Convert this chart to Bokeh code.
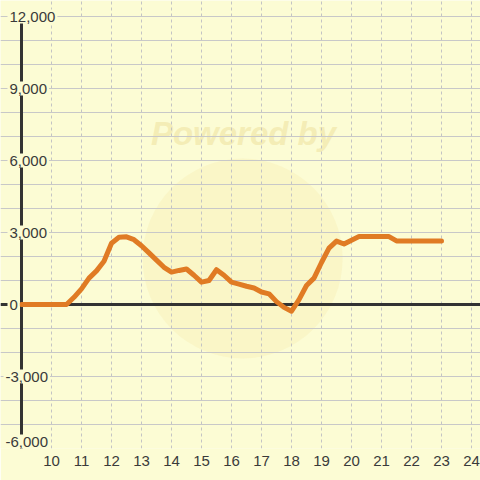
from bokeh.plotting import figure
from bokeh.models import FixedTicker, ColumnDataSource, Range1d
from bokeh.core.properties import value
from bokeh.embed import file_html
from bokeh.resources import INLINE

# ---- data ----
hours = [9, 10.5, 10.75, 11, 11.25, 11.5, 11.75, 12, 12.25, 12.5, 12.75, 13,
         13.25, 13.5, 13.75, 14, 14.25, 14.5, 14.75, 15, 15.25, 15.5, 15.75,
         16, 16.25, 16.5, 16.75, 17, 17.25, 17.5, 17.75, 18, 18.25, 18.5,
         18.75, 19, 19.25, 19.5, 19.75, 20, 20.25, 20.5, 20.75, 21, 21.25,
         21.5, 21.75, 22, 22.25, 22.5, 22.75, 23]
values = [0, 0, 300, 650, 1100, 1400, 1800, 2550, 2800, 2820, 2700, 2450,
          2150, 1850, 1550, 1350, 1420, 1480, 1220, 930, 1000, 1450, 1220,
          930, 850, 760, 690, 520, 444, 120, -120, -280, 200, 790,
          1100, 1750, 2350, 2640, 2520, 2680, 2830, 2830, 2830, 2830, 2830,
          2650, 2650, 2650, 2650, 2650, 2650, 2650]

x_ticks = list(range(10, 25))
y_grid_ticks = list(range(-6000, 12001, 1000))
y_label_vals = [12000, 9000, 6000, 3000, 0]
y_label_text = ["12,000", "9,000", "6,000", "3,000", "0"]
y_neg_vals = [-3000]
y_neg_text = ["-3,000"]
y_bottom_val = [-6000]
y_bottom_text = ["-6,000"]

BG = "#FCFCD4"
TXT = "#3a3a3a"
FONT = "Liberation Sans"

x_start, x_end = 8.3, 24.3
y_start, y_end = -6000, 12667

p = figure(width=480, height=480, output_backend="svg", toolbar_location=None,
           x_range=Range1d(x_start, x_end), y_range=Range1d(y_start, y_end),
           min_border_left=0, min_border_right=0, min_border_top=0,
           min_border_bottom=32)
p.background_fill_color = BG
p.border_fill_color = BG
p.outline_line_color = None
p.yaxis.visible = False

# watermark
p.scatter(x=[16.37], y=[1917], size=200, fill_color="#F5EBB0", fill_alpha=0.35,
          line_color=None, level="image")
p.text(x=[16.4], y=[7125], text=["Powered by"], text_align="center",
       text_baseline="middle", text_font=value(FONT), text_font_size="33px",
       text_font_style="bold italic", text_color="#EEE09C", text_alpha=0.55,
       level="image")

# grids
p.xgrid.ticker = FixedTicker(ticks=x_ticks)
p.xgrid.grid_line_color = "#C4C4C4"
p.xgrid.grid_line_dash = "3 3"
p.xgrid.grid_line_width = 1
p.ygrid.ticker = FixedTicker(ticks=y_grid_ticks)
p.ygrid.grid_line_color = "#C8C8C8"
p.ygrid.grid_line_width = 1

# axis lines (as glyphs, below the series)
p.segment(x0=[x_ticks[0] - 1], y0=[y_grid_ticks[0]], x1=[x_ticks[0] - 1],
          y1=[y_grid_ticks[-1]], line_color="#333333", line_width=3)
p.segment(x0=[x_start], y0=[0], x1=[x_end], y1=[0],
          line_color="#333333", line_width=3)

# series
p.line(hours, values, line_color="#E07B24", line_width=5,
       line_join="round", line_cap="round")

# x axis
xa = p.xaxis[0]
xa.ticker = FixedTicker(ticks=x_ticks)
xa.axis_line_color = None
xa.major_tick_line_color = None
xa.minor_tick_line_color = None
xa.major_label_standoff = 1
xa.major_label_text_font = FONT
xa.major_label_text_font_size = "15px"
xa.major_label_text_color = TXT

# y labels (inside plot, drawn last, with background boxes)
def ylabels(vals, texts, off, baseline):
    src = ColumnDataSource(dict(x=[x_start] * len(vals), y=vals, t=texts))
    p.text(x="x", y="y", text="t", source=src, text_align="left",
           text_baseline=baseline, text_font=value(FONT),
           text_font_size="15px", text_color=TXT, x_offset=off,
           background_fill_color=BG, padding=2)

ylabels(y_label_vals, y_label_text, 7, "middle")
ylabels(y_neg_vals, y_neg_text, 3, "middle")
ylabels(y_bottom_val, y_bottom_text, 3, "bottom")

open("out.html", "w").write(file_html(p, INLINE))
